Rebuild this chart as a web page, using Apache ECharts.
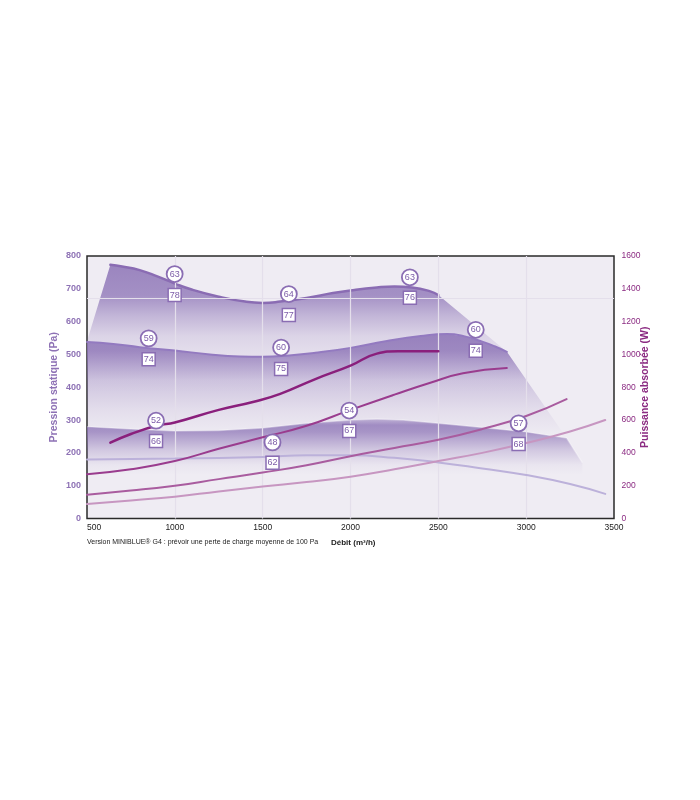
<!DOCTYPE html>
<html>
<head>
<meta charset="utf-8">
<script src="https://cdn.jsdelivr.net/npm/echarts@6/dist/echarts.min.js"></script>
<style>html,body{margin:0;padding:0;background:#fff}#c{width:700px;height:800px}</style>
</head>
<body>
<div id="c"></div>
<script>
// ---- data (m3/h, Pa) ----
const xTicks = [500, 1000, 1500, 2000, 2500, 3000, 3500];
const gridX = [1000, 1500, 2000, 2500, 3000];
const hLine = 671;
const topLeftEdge = [[500, 540]];
const topCurve = [[633,773],[700,768],[800,757],[900,738],[1000,716],[1100,697],[1250,676],[1400,661],[1500,657],[1600,661],[1750,672],[1900,687],[2000,695],[2150,704],[2250,707],[2350,704],[2450,693],[2500,681]];
const midCurve = [[500,538],[650,532],[800,522],[1000,512],[1200,500],[1372,494],[1500,493],[1650,497],[1800,505],[2000,520],[2200,540],[2400,556],[2550,562],[2650,555],[2750,539],[2820,525],[2890,508]];
const lowCurve = [[500,280],[750,273],[1000,267],[1250,268],[1500,276],[1750,290],[2000,300],[2150,303],[2300,300],[2500,290],[2750,277],[3000,264],[3230,245]];
const envelope = [[2890,508],[3230,245],[3320,170]];
// power curves (m3/h, W)
const p1 = [[633,462],[750,515],[900,567],[1000,585],[1250,662],[1450,712],[1600,760],[1800,850],[2000,932],[2150,1005],[2270,1020],[2500,1020]];
const p2 = [[500,270],[750,300],[1000,350],[1250,425],[1500,495],[1750,565],[2000,662],[2250,755],[2450,826],[2640,885],[2890,917]];
const p3 = [[500,145],[750,170],[1000,200],[1250,240],[1500,280],[1750,325],[2000,380],[2250,430],[2500,480],[2750,545],[3000,625],[3230,728]];
const p4 = [[500,88],[750,110],[1000,133],[1250,165],[1500,195],[1750,222],[2000,255],[2250,300],[2500,350],[2750,400],[3000,460],[3250,530],[3450,600]];
const p5 = [[500,360],[1000,365],[1500,375],[1750,385],[2000,385],[2250,370],[2500,342],[2750,305],[3000,265],[3250,210],[3450,150]];
// acoustic labels (m3/h, Pa, text)
const circleLabels = [[999,745,'63'],[1649,684,'64'],[2338,735,'63'],[851,549,'59'],[1605,521,'60'],[2713,575,'60'],[893,298,'52'],[1993,329,'54'],[1556,232,'48'],[2957,290,'57']];
const squareLabels = [[999,681,'78'],[1649,620,'77'],[2338,673,'76'],[851,485,'74'],[1605,456,'75'],[2713,511,'74'],[893,236,'66'],[1993,267,'67'],[1556,170,'62'],[2957,227,'68']];

const FONT = 'Liberation Sans, Arial, Helvetica, sans-serif';
function grad(stops) {
  return {type:'linear', x:0, y:0, x2:0, y2:1, colorStops: stops.map(s => ({offset:s[0], color:'rgba(140,115,182,' + s[1] + ')'}))};
}
const topRegion = topLeftEdge.concat(topCurve, envelope);
const midRegion = midCurve.concat(envelope.slice(1));
const lowRegion = lowCurve.concat(envelope.slice(2));

function area(data, stops, z, extra) {
  return Object.assign({type:'line', data, yAxisIndex:0, smooth:false, symbol:'none', silent:true, z,
    lineStyle:{width:0}, areaStyle:{color:grad(stops), opacity:1, origin:'start'}}, extra || {});
}
function pline(data, color, width, yIdx, z) {
  return {type:'line', data, yAxisIndex:yIdx, smooth:true, symbol:'none', silent:true, z,
    lineStyle:{color, width, cap:'round'}};
}
const plain = v => String(v);

const chart = echarts.init(document.getElementById('c'), null, {renderer:'canvas'});
chart.setOption({
  animation:false,
  backgroundColor:'#ffffff',
  textStyle:{fontFamily:FONT},
  grid:{left:87, right:86, top:256, bottom:281.5, show:true, backgroundColor:'#efecf3', borderColor:'#2a2a2a', borderWidth:1.5},
  xAxis:{type:'value', min:xTicks[0], max:xTicks[xTicks.length-1], interval:500,
    axisLine:{show:false}, axisTick:{show:false}, splitLine:{show:false},
    axisLabel:{color:'#222', fontSize:8.5, margin:5, alignMinLabel:'left', fontFamily:FONT, formatter:plain}},
  yAxis:[
    {type:'value', min:0, max:800, interval:100, name:'Pression statique (Pa)', nameLocation:'middle', nameGap:27, nameRotate:90, nameMoveOverlap:false,
      nameTextStyle:{color:'#8e72b5', fontSize:10.5, fontWeight:'bold', fontFamily:FONT},
      axisLine:{show:false}, axisTick:{show:false}, splitLine:{show:false},
      axisLabel:{color:'#8e72b5', fontSize:9, fontWeight:'bold', margin:6, fontFamily:FONT, formatter:plain}},
    {type:'value', min:0, max:1600, interval:200, position:'right', name:'Puissance absorbée (W)', nameLocation:'middle', nameGap:26, nameRotate:90, nameMoveOverlap:false,
      nameTextStyle:{color:'#8b2b82', fontSize:10.5, fontWeight:'bold', fontFamily:FONT},
      axisLine:{show:false}, axisTick:{show:false}, splitLine:{show:false},
      axisLabel:{color:'#8b2b82', fontSize:8.5, margin:7.5, fontFamily:FONT, formatter:plain}}
  ],
  graphic:[
    {type:'text', left:87, top:539, style:{text:'Version MINIBLUE® G4 : prévoir une perte de charge moyenne de 100 Pa', fontSize:7, fill:'#222', fontFamily:FONT}},
    {type:'text', left:331, top:538.5, style:{text:'Débit (m³/h)', fontSize:8, fontWeight:'bold', fill:'#222', fontFamily:FONT}}
  ],
  series:[
    area(topRegion, [[0,0.85],[0.12,0.76],[0.2,0.45],[0.28,0.2],[0.4,0.05],[0.5,0]], 1),
    area(midRegion, [[0,0.85],[0.09,0.8],[0.25,0.33],[0.41,0.12],[0.55,0]], 2),
    area(lowRegion, [[0,0.45],[0.06,0.78],[0.13,0.72],[0.31,0.3],[0.46,0.06],[0.56,0]], 3, {
      lineStyle:{width:1.5, color:'rgba(255,255,255,0.35)'},
      markLine:{silent:true, symbol:['none','none'], label:{show:false}, animation:false,
        lineStyle:{color:'#e4dfeb', width:1.2, type:'solid'},
        data: gridX.map(v => ({xAxis:v})).concat([{yAxis:hLine}])}
    }),
    pline(topCurve, '#8a6cb3', 2.5, 0, 4),
    pline(midCurve, '#937ac0', 2, 0, 4),
    pline(p5, '#bcb1da', 2, 1, 5),
    pline(p4, '#c796c1', 2, 1, 5),
    pline(p3, '#a95c9f', 2, 1, 5),
    pline(p2, '#9a3c8e', 2, 1, 5),
    pline(p1, '#8a1f7c', 2.5, 1, 5),
    {type:'scatter', data:circleLabels, yAxisIndex:0, symbol:'circle', symbolSize:16, z:8, silent:true,
      itemStyle:{color:'#ffffff', borderColor:'#8a6db3', borderWidth:1.8, opacity:1},
      label:{show:true, position:'inside', formatter:p => p.value[2], color:'#7c5ca8', fontSize:9, fontFamily:FONT}},
    {type:'scatter', data:squareLabels, yAxisIndex:0, symbol:'rect', symbolSize:13, z:8, silent:true,
      itemStyle:{color:'#ffffff', borderColor:'#8a6db3', borderWidth:1.5, opacity:1},
      label:{show:true, position:'inside', formatter:p => p.value[2], color:'#7c5ca8', fontSize:9, fontFamily:FONT}}
  ]
});
</script>
</body>
</html>
